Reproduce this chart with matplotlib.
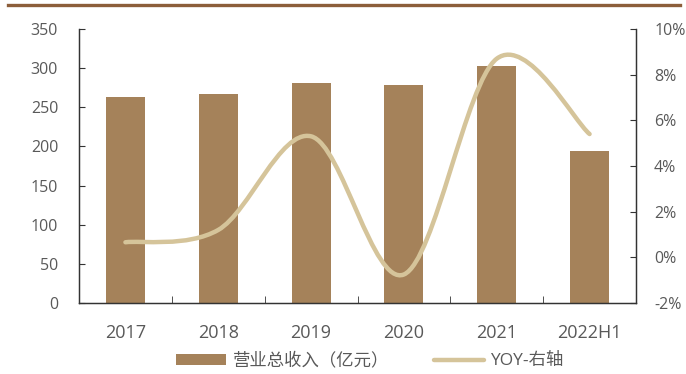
import matplotlib
matplotlib.use("Agg")
import matplotlib.pyplot as plt
from matplotlib.path import Path
from matplotlib.patches import PathPatch, Patch
from matplotlib.lines import Line2D
import numpy as np

plt.rcParams['font.family'] = ['Open Sans', 'Noto Sans CJK SC', 'DejaVu Sans']

categories = ['2017', '2018', '2019', '2020', '2021', '2022H1']
revenue = [263, 267, 281, 279, 303, 194]          # 营业总收入（亿元）
yoy = [0.66, 1.2, 5.3, -0.75, 8.7, 5.4]            # YOY (%)

bar_color = '#A5825A'
line_color = '#D5C49A'
text_color = '#595959'

fig = plt.figure(figsize=(6.86, 3.74), dpi=100)
ax = fig.add_axes([79/686, 71/374, 557/686, 274/374])
ax2 = ax.twinx()

x = np.arange(len(categories))
ax.bar(x, revenue, width=0.42, color=bar_color, zorder=2)
ax.set_xlim(-0.5, len(categories) - 0.5)
ax.set_ylim(0, 350)
ax.set_yticks(np.arange(0, 351, 50))
ax.set_xticks(x)
ax.set_xticklabels(categories)
ax.set_xticks(np.arange(-0.5, len(categories), 1.0), minor=True)
ax.tick_params(axis='x', which='major', length=0, pad=15, labelsize=13, labelcolor=text_color)
ax.tick_params(axis='x', which='minor', direction='in', length=5, color='#333333')
ax.tick_params(axis='y', direction='in', length=4, color='#333333', labelsize=11.5,
               labelcolor=text_color, pad=15)
for lab in ax.get_yticklabels():
    lab.set_horizontalalignment('right')

# smooth curve (Excel-like) via cubic Bezier through the data points
pts = np.column_stack([x, yoy]).astype(float)
verts = [tuple(pts[0])]
codes = [Path.MOVETO]
n = len(pts)
for i in range(n - 1):
    p0 = pts[i - 1] if i > 0 else pts[i]
    p1 = pts[i]
    p2 = pts[i + 1]
    p3 = pts[i + 2] if i + 2 < n else pts[i + 1]
    c1 = p1 + (p2 - p0) / 6.0
    c2 = p2 - (p3 - p1) / 6.0
    verts += [tuple(c1), tuple(c2), tuple(p2)]
    codes += [Path.CURVE4] * 3
ax2.add_patch(PathPatch(Path(verts, codes), facecolor='none', edgecolor=line_color,
                        lw=3.2, capstyle='round', zorder=3))
ax2.set_ylim(-2, 10)
ax2.set_yticks(np.arange(-2, 11, 2))
ax2.set_yticklabels([f'{v}%' for v in range(-2, 11, 2)])
ax2.tick_params(axis='y', direction='in', length=4, color='#333333', labelsize=11.5,
                labelcolor=text_color, pad=13)

for a in (ax, ax2):
    a.spines['top'].set_visible(False)
    for s in ('left', 'right', 'bottom'):
        a.spines[s].set_color('#333333')
        a.spines[s].set_linewidth(0.9)

handles = [Patch(facecolor=bar_color, edgecolor='none'),
           Line2D([0], [0], color=line_color, lw=3.2, solid_capstyle='round')]
fig.legend(handles, ['营业总收入（亿元）', 'YOY-右轴'], loc='center',
           bbox_to_anchor=(370/686, 1 - 361/374), ncol=2, frameon=False,
           fontsize=12.5, handlelength=2.9, handleheight=0.55, columnspacing=2.6,
           labelcolor=text_color, handletextpad=0.35)

fig.add_artist(Line2D([8/686, 680/686], [1 - 4.5/374, 1 - 4.5/374], color='#8C5E3A', lw=2.4))

fig.savefig('out.png', dpi=100)
